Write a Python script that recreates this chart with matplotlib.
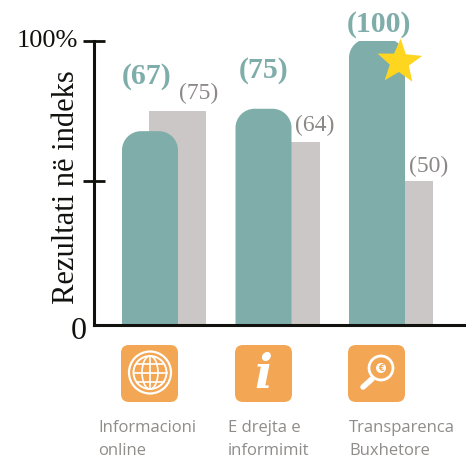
import numpy as np
import matplotlib
matplotlib.use("Agg")
import matplotlib.pyplot as plt
from matplotlib.path import Path
from matplotlib.patches import PathPatch, FancyBboxPatch, Circle, Polygon, Ellipse

categories = ["Informacioni\nonline", "E drejta e\ninformimit", "Transparenca\nBuxhetore"]
teal_values = [67, 75, 100]
gray_values = [75, 64, 50]
y_label = "Rezultati në indeks"

W, H = 466, 460
TEAL, GRAY, ORANGE, INK = "#7faeaa", "#cbc7c6", "#f3a653", "#11110d"
plt.rcParams["font.family"] = ["Liberation Serif", "DejaVu Serif"]

fig = plt.figure(figsize=(W / 100, H / 100), dpi=100)
L, R, T, B = 94, 466, 42, 326
ax = fig.add_axes([L / W, 1 - B / H, (R - L) / W, (B - T) / H])
ov = fig.add_axes([0, 0, 1, 1], zorder=5)
ov.set_xlim(0, W); ov.set_ylim(H, 0); ov.axis("off")

px_per_unit = 2.8
ax.set_ylim(-4 / px_per_unit, (B - T - 4) / px_per_unit)
spacing = 113.5
ax.set_xlim((L - 150) / spacing, (R - 150) / spacing)
ymin = ax.get_ylim()[0]
teal_w, gray_w = 56 / spacing, 57 / spacing
rad_px = 19
rx, ry = rad_px / spacing, rad_px / px_per_unit
lift = 0.8
x = np.arange(len(categories))
gray_x = x + 0.5 * teal_w - 0.5 / spacing
ax.bar(gray_x, np.array(gray_values) - ymin, width=gray_w, bottom=ymin, color=GRAY, zorder=1)
for xi, v in zip(x, teal_values):
    l, r, t = xi - teal_w / 2, xi + teal_w / 2, v + lift
    k = 0.45
    verts = [(l, ymin), (l, t - ry), (l, t - ry * k), (l + rx * k, t), (l + rx, t), (r - rx, t),
             (r - rx * k, t), (r, t - ry * k), (r, t - ry), (r, ymin), (l, ymin)]
    codes = [Path.MOVETO, Path.LINETO, Path.CURVE4, Path.CURVE4, Path.CURVE4, Path.LINETO,
             Path.CURVE4, Path.CURVE4, Path.CURVE4, Path.LINETO, Path.CLOSEPOLY]
    ax.add_patch(PathPatch(Path(verts, codes), fc=TEAL, ec="none", zorder=2))

for s in ("top", "right"):
    ax.spines[s].set_visible(False)
ax.patch.set_alpha(0)
ax.spines["left"].set_linewidth(2.2); ax.spines["bottom"].set_linewidth(2.2)
ax.spines["left"].set_color(INK); ax.spines["bottom"].set_color(INK)
ax.set_xticks([])
ax.set_yticks([50, 100])
ax.set_yticklabels([])
ax.tick_params(axis="y", direction="inout", length=16.5, width=2.0, color=INK, left=True)

ov.text(78, 41, "100%", fontsize=19, color=INK, ha="right", va="center")
ov.text(79, 332, "0", fontsize=23, color=INK, ha="center", va="center")
ov.text(67, 187, y_label, fontsize=22, color=INK, rotation=90, ha="center", va="center")

for (px, py), v in zip([(147, 76), (264, 70), (379, 24)], teal_values):
    ov.text(px, py, f"({v})", fontsize=21.5, fontweight="bold", color=TEAL, ha="center", va="center")
for (px, py), v in zip([(199, 93), (315, 125), (429, 166)], gray_values):
    ov.text(px, py, f"({v})", fontsize=17, color="#8c8887", ha="center", va="center")

cx, cy, Ro, Ri = 399.5, 63, 23.5, 10
ang = np.deg2rad(-90 + 3) + np.arange(10) * np.pi / 5
rr = np.where(np.arange(10) % 2 == 0, Ro, Ri)
ov.add_patch(Polygon(np.c_[cx + rr * np.cos(ang), cy + rr * np.sin(ang)], fc="#ffd61f", ec="none"))

for l in (121, 235, 348):
    ov.add_patch(FancyBboxPatch((l + 8, 346 + 8), 57 - 16, 57 - 16, boxstyle="round,pad=8,rounding_size=8",
                                fc=ORANGE, ec="none"))
gx, gy = 150, 373.5
ov.add_patch(Circle((gx, gy), 21, fc="none", ec="white", lw=1.6))
ov.add_patch(Circle((gx, gy), 16.5, fc="none", ec="white", lw=1.4))
ov.add_patch(Ellipse((gx, gy), 16, 33, fc="none", ec="white", lw=1.2))
ov.plot([gx, gx], [gy - 16.5, gy + 16.5], color="white", lw=1.2)
for dy, hw in [(-9, 13.5), (0, 16.5), (9, 13.5)]:
    ov.plot([gx - hw, gx + hw], [gy + dy, gy + dy], color="white", lw=1.2)
ov.text(263, 375, "i", fontsize=34, fontstyle="italic", fontweight="bold", color="white",
        ha="center", va="center", family="DejaVu Serif")
mx, my = 381, 369
ov.add_patch(Circle((mx, my), 12, fc="none", ec="white", lw=2.0))
ov.add_patch(Circle((mx, my), 5, fc="white", ec="none"))
ov.text(mx, my, "€", fontsize=6, fontweight="bold", color=ORANGE, ha="center", va="center", family="DejaVu Sans")
ov.plot([372, 363], [380, 388], color="white", lw=4, solid_capstyle="round")

for px, c in zip([98, 228, 349], categories):
    a, b = c.split("\n")
    ov.text(px, 428, a, fontsize=12, family="Open Sans", color="#8f8c8a", ha="left", va="center")
    ov.text(px, 451, b, fontsize=12, family="Open Sans", color="#8f8c8a", ha="left", va="center")

fig.savefig("out.png", dpi=100)
